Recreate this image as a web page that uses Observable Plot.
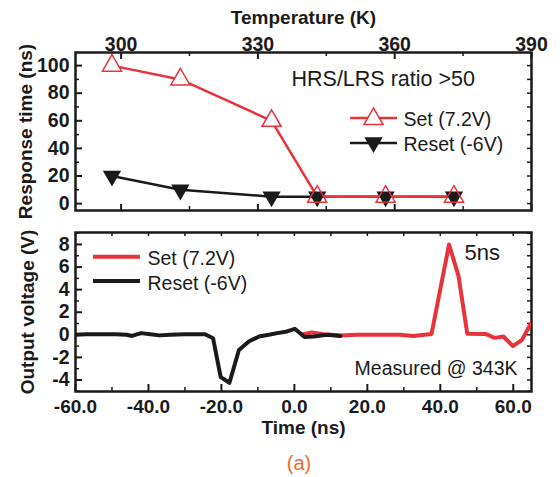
<!DOCTYPE html>
<html><head><meta charset="utf-8">
<script src="https://cdn.jsdelivr.net/npm/d3@7"></script>
<script src="https://cdn.jsdelivr.net/npm/@observablehq/plot@0.6"></script>
<style>
body{margin:0;background:#fff;}
#wrap{position:relative;width:560px;height:477px;font-family:"Liberation Sans",Arial,sans-serif;background:#fff;}
#topPanel{position:absolute;left:0;top:0;}
#botPanel{position:absolute;left:0;top:220px;}
#cap{position:absolute;left:0;width:598px;top:453px;text-align:center;color:#f26b2a;font-size:20px;line-height:20px;}
</style></head>
<body><div id="wrap"><div id="topPanel"></div><div id="botPanel"></div><div id="cap">(a)</div></div>
<script>
// ---- Top panel data ----
const temperatures = [298, 313, 333, 343, 358, 373];
const setResponse = [100, 90, 60, 5, 5, 5];
const resetResponse = [20, 10, 5, 5, 5, 5];
const tempTicks = [300, 330, 360, 390];
const tempMinor = [315, 345, 375];
const respTicks = [0, 20, 40, 60, 80, 100];
const respMinor = [10, 30, 50, 70, 90];
const respAll = [0, 10, 20, 30, 40, 50, 60, 70, 80, 90, 100];

// ---- Bottom panel data ----
const resetTime = [-60, -57, -53, -49, -46, -44.5, -42, -39.5, -37, -34, -30, -26, -24.5, -22.3, -20.2, -17.8, -15.2, -12.4, -9.7, -7, -4.7, -2, 0.1, 2.8, 5.3, 8.9, 12.6];
const resetVolt = [0, 0.05, 0.05, 0.05, 0, -0.1, 0.15, 0.05, -0.05, 0, 0.05, 0.05, 0.05, -0.3, -3.75, -4.25, -1.35, -0.57, -0.15, 0, 0.15, 0.3, 0.53, -0.2, -0.15, 0, -0.1];
const setTime = [2, 4.8, 8, 12.8, 17, 25, 29, 32.6, 37.6, 42.4, 45, 47.4, 52.4, 54.9, 57.3, 59.9, 62.4, 65];
const setVolt = [0.02, 0.2, 0.05, -0.06, 0, 0, 0, -0.1, 0.08, 8.0, 5.2, 0.1, 0.08, -0.27, -0.15, -1.0, -0.45, 1.1];
const timeTicks = [-60, -40, -20, 0, 20, 40, 60];
const timeMinor = [-50, -30, -10, 10, 30, 50];
const timeAll = [-60, -50, -40, -30, -20, -10, 0, 10, 20, 30, 40, 50, 60];
const voltTicks = [-4, -2, 0, 2, 4, 6, 8];
const voltMinor = [-5, -3, -1, 1, 3, 5, 7, 9];
const voltAll = [-5, -4, -3, -2, -1, 0, 1, 2, 3, 4, 5, 6, 7, 8, 9];

const RED = "#e8333b";
const BLK = "#1a1a1a";
const FONT = "'Liberation Sans', Arial, sans-serif";

const triDown = {
  draw(ctx, size) {
    const h = Math.sqrt(size / (3 * Math.sqrt(3)));
    const w = Math.sqrt(3) * h;
    ctx.moveTo(0, 2 * h);
    ctx.lineTo(-w, -h);
    ctx.lineTo(w, -h);
    ctx.closePath();
  }
};

const W = 560, ML = 75, MR = 29;
const innerW = W - ML - MR;

// ---- Top plot ----
const H1 = 220, MT1 = 52, MB1 = 10;
const innerH1 = H1 - MT1 - MB1;
const topData = temperatures.map((t, i) => ({t, set: setResponse[i], reset: resetResponse[i], idx: i}));

const topChart = Plot.plot({
  width: W, height: H1,
  marginLeft: ML, marginRight: MR, marginTop: MT1, marginBottom: MB1,
  style: {fontFamily: FONT, color: BLK, background: "white", overflow: "visible"},
  x: {domain: [290, 390]},
  y: {domain: [-5, 109.5]},
  marks: [
    Plot.axisX({anchor: "top", ticks: tempTicks, tickSize: 0, tickPadding: 2, tickFormat: d => String(d), fontSize: 19.5, fontWeight: "bold", label: null}),
    Plot.axisY({anchor: "left", ticks: respTicks, tickSize: 0, tickPadding: 6, tickFormat: d => String(d), fontSize: 19.5, fontWeight: "bold", label: null}),
    Plot.tickX(tempTicks, {x: d => d, insetBottom: innerH1 - 7, stroke: BLK, strokeWidth: 2}),
    Plot.tickX(tempMinor, {x: d => d, insetBottom: innerH1 - 4, stroke: BLK, strokeWidth: 1.5}),
    Plot.tickX(tempTicks, {x: d => d, insetTop: innerH1 - 6, stroke: BLK, strokeWidth: 2}),
    Plot.tickX(tempMinor, {x: d => d, insetTop: innerH1 - 4, stroke: BLK, strokeWidth: 1.5}),
    Plot.tickY(respTicks, {y: d => d, insetRight: innerW - 7, stroke: BLK, strokeWidth: 2}),
    Plot.tickY(respMinor, {y: d => d, insetRight: innerW - 4, stroke: BLK, strokeWidth: 1.5}),
    Plot.tickY(respAll, {y: d => d, insetLeft: innerW - 4, stroke: BLK, strokeWidth: 1.5}),
    Plot.frame({stroke: BLK, strokeWidth: 2.5}),
    Plot.line(topData, {x: "t", y: "reset", stroke: BLK, strokeWidth: 2.5}),
    Plot.line(topData, {x: "t", y: "set", stroke: RED, strokeWidth: 2.5}),
    Plot.dot(topData, {x: "t", y: "reset", symbol: triDown, r: 6.8, fill: BLK, stroke: "none"}),
    Plot.dot(topData, {x: "t", y: "set", symbol: "triangle", r: 7.1, stroke: RED, strokeWidth: 1.5, fill: d => d.set > 10 ? "white" : "none"}),
    Plot.text(["HRS/LRS ratio >50"], {frameAnchor: "top-left", textAnchor: "start", lineAnchor: "middle", dx: 216, dy: 27, fontSize: 21.5, fill: BLK}),
    Plot.text(["Set (7.2V)"], {frameAnchor: "top-left", textAnchor: "start", lineAnchor: "middle", dx: 328, dy: 67.5, fontSize: 19.5, fill: BLK}),
    Plot.text(["Reset (-6V)"], {frameAnchor: "top-left", textAnchor: "start", lineAnchor: "middle", dx: 328, dy: 92.5, fontSize: 19.5, fill: BLK}),
    Plot.text(["Temperature (K)"], {frameAnchor: "top", textAnchor: "middle", lineAnchor: "middle", dy: -35, fontSize: 19, fontWeight: "bold", fill: BLK}),
    Plot.text(["Response time (ns)"], {frameAnchor: "left", textAnchor: "middle", lineAnchor: "middle", rotate: -90, dx: -50, fontSize: 19, fontWeight: "bold", fill: BLK})
  ]
});
document.getElementById("topPanel").appendChild(topChart);
{
  const g = d3.select(topChart).append("g");
  g.append("line").attr("x1", 350).attr("x2", 397).attr("y1", 118).attr("y2", 118).attr("stroke", RED).attr("stroke-width", 2.5);
  g.append("path").attr("d", d3.symbol(d3.symbolTriangle, Math.PI * 7.1 * 7.1)()).attr("transform", "translate(373.5,119)").attr("fill", "white").attr("stroke", RED).attr("stroke-width", 1.5);
  g.append("line").attr("x1", 350).attr("x2", 397).attr("y1", 143).attr("y2", 143).attr("stroke", BLK).attr("stroke-width", 2.5);
  g.append("path").attr("d", d3.symbol(triDown, Math.PI * 6.8 * 6.8)()).attr("transform", "translate(373.5,142.5)").attr("fill", BLK);
}

// ---- Bottom plot ----
const H2 = 225, MT2 = 12, MB2 = 54;
const innerH2 = H2 - MT2 - MB2;
const setData = setTime.map((t, i) => ({t, v: setVolt[i]}));
const resetData = resetTime.map((t, i) => ({t, v: resetVolt[i]}));

const botChart = Plot.plot({
  width: W, height: H2,
  marginLeft: ML, marginRight: MR, marginTop: MT2, marginBottom: MB2,
  style: {fontFamily: FONT, color: BLK, background: "white", overflow: "visible"},
  x: {domain: [-60, 65]},
  y: {domain: [-5.02, 9.06]},
  marks: [
    Plot.axisX({anchor: "bottom", ticks: timeTicks, tickSize: 0, tickPadding: 8, tickFormat: d => d.toFixed(1), fontSize: 19, fontWeight: "bold", label: null}),
    Plot.axisY({anchor: "left", ticks: voltTicks, tickSize: 0, tickPadding: 6, tickFormat: d => String(d), fontSize: 19.5, fontWeight: "bold", label: null}),
    Plot.tickX(timeTicks, {x: d => d, insetTop: innerH2 - 7, stroke: BLK, strokeWidth: 2}),
    Plot.tickX(timeMinor, {x: d => d, insetTop: innerH2 - 4, stroke: BLK, strokeWidth: 1.5}),
    Plot.tickX(timeAll, {x: d => d, insetBottom: innerH2 - 4, stroke: BLK, strokeWidth: 1.5}),
    Plot.tickY(voltTicks, {y: d => d, insetRight: innerW - 7, stroke: BLK, strokeWidth: 2}),
    Plot.tickY(voltMinor, {y: d => d, insetRight: innerW - 4, stroke: BLK, strokeWidth: 1.5}),
    Plot.tickY(voltAll, {y: d => d, insetLeft: innerW - 4, stroke: BLK, strokeWidth: 1.5}),
    Plot.frame({stroke: BLK, strokeWidth: 2.5}),
    Plot.line(setData, {x: "t", y: "v", stroke: RED, strokeWidth: 4, clip: true}),
    Plot.line(resetData, {x: "t", y: "v", stroke: BLK, strokeWidth: 4, clip: true}),
    Plot.text(["Set (7.2V)"], {frameAnchor: "top-left", textAnchor: "start", lineAnchor: "middle", dx: 72, dy: 26, fontSize: 19.5, fill: BLK}),
    Plot.text(["Reset (-6V)"], {frameAnchor: "top-left", textAnchor: "start", lineAnchor: "middle", dx: 72, dy: 51, fontSize: 19.5, fill: BLK}),
    Plot.text(["5ns"], {frameAnchor: "top-left", textAnchor: "start", lineAnchor: "middle", dx: 389, dy: 20, fontSize: 22, fill: BLK}),
    Plot.text(["Measured @ 343K"], {frameAnchor: "bottom-right", textAnchor: "end", lineAnchor: "middle", dx: -14, dy: -23, fontSize: 19.5, fill: BLK}),
    Plot.text(["Time (ns)"], {frameAnchor: "bottom", textAnchor: "middle", lineAnchor: "middle", dy: 36, fontSize: 19, fontWeight: "bold", fill: BLK}),
    Plot.text(["Output voltage (V)"], {frameAnchor: "left", textAnchor: "middle", lineAnchor: "middle", rotate: -90, dx: -48, fontSize: 19, fontWeight: "bold", fill: BLK})
  ]
});
document.getElementById("botPanel").appendChild(botChart);
{
  const g = d3.select(botChart).append("g");
  g.append("line").attr("x1", 93).attr("x2", 140).attr("y1", 36.7).attr("y2", 36.7).attr("stroke", RED).attr("stroke-width", 4);
  g.append("line").attr("x1", 93).attr("x2", 140).attr("y1", 61).attr("y2", 61).attr("stroke", BLK).attr("stroke-width", 4);
}
</script>
</body></html>
